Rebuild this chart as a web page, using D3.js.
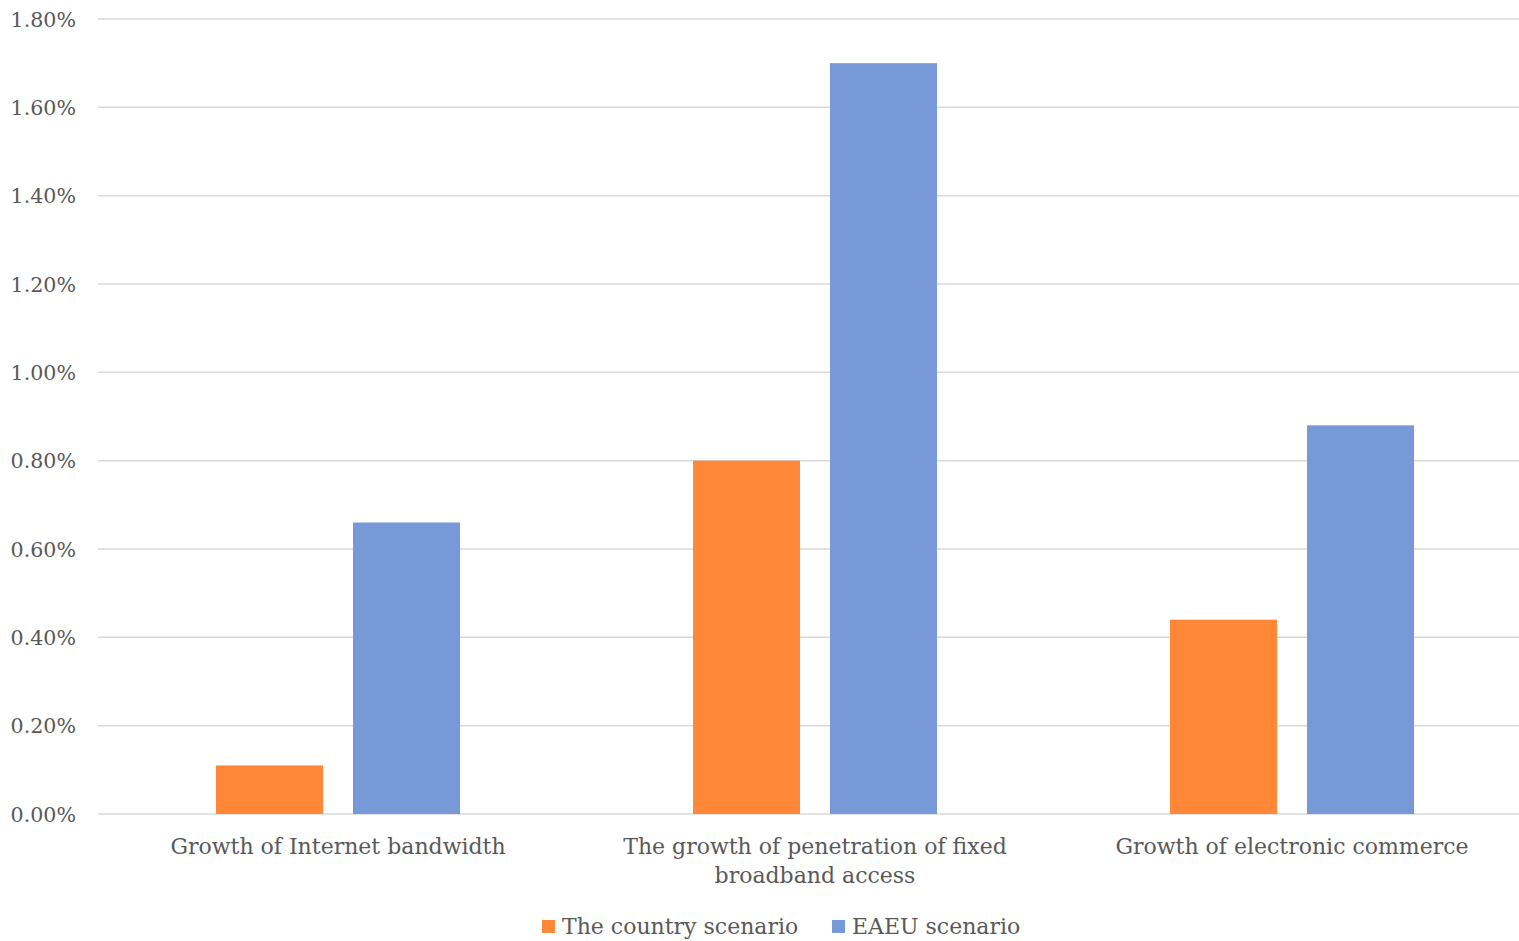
<!DOCTYPE html>
<html>
<head>
<meta charset="utf-8">
<script src="https://cdn.jsdelivr.net/npm/d3@7"></script>
<style>
  html, body { margin: 0; padding: 0; background: #fff; }
  svg { display: block; }
  text { font-family: "DejaVu Serif", "Liberation Serif", serif; fill: #595959; }
</style>
</head>
<body>
<svg id="chart" width="1519" height="941"></svg>
<script>
// Scenario estimates of GDP growth from digital development factors
const categories = [
  ["Growth of Internet bandwidth"],
  ["The growth of penetration of fixed", "broadband access"],
  ["Growth of electronic commerce"]
];
const seriesNames = ["The country scenario", "EAEU scenario"];
const countryValues = [0.0011, 0.0080, 0.0044];
const eaeuValues = [0.0066, 0.0170, 0.0088];
const yTicks = [0, 0.002, 0.004, 0.006, 0.008, 0.010, 0.012, 0.014, 0.016, 0.018];
const colors = ["#ff8838", "#7799d8"];

const svg = d3.select("#chart");
const plot = { left: 98, right: 1519, top: 19, bottom: 814 };

const y = d3.scaleLinear().domain([0, 0.018]).range([plot.bottom, plot.top]);
const x = d3.scaleBand().domain(d3.range(categories.length))
  .range([99.5, 99.5 + 477 * 3]).paddingInner(0).paddingOuter(0);
const inner = d3.scaleBand().domain([0, 1])
  .range([116.5, 477 - 116.5]).paddingInner(30 / 137).paddingOuter(0);

// Gridlines
svg.append("g").selectAll("line").data(yTicks).join("line")
  .attr("x1", plot.left).attr("x2", plot.right)
  .attr("y1", d => y(d)).attr("y2", d => y(d))
  .attr("stroke", "#d9d9d9").attr("stroke-width", 1.5);

// Y axis labels
const yAxis = d3.axisLeft(y).tickValues(yTicks).tickSize(0).tickPadding(0)
  .tickFormat(d3.format(".2%"));
const ga = svg.append("g").attr("transform", "translate(76,0)").call(yAxis);
ga.select(".domain").remove();
ga.selectAll("text").attr("font-size", 20.6).attr("fill", "#595959")
  .style("font-family", "DejaVu Serif, serif").attr("dy", "0.35em");

// Bars
const rows = categories.map((c, i) => [countryValues[i], eaeuValues[i]]);
const groups = svg.append("g").selectAll("g").data(rows).join("g")
  .attr("transform", (d, i) => `translate(${x(i)},0)`);
groups.selectAll("rect").data(d => d).join("rect")
  .attr("x", (d, j) => inner(j))
  .attr("width", inner.bandwidth())
  .attr("y", d => y(d))
  .attr("height", d => y(0) - y(d))
  .attr("fill", (d, j) => colors[j]);

// Category labels
const cl = svg.append("g").selectAll("text").data(categories).join("text")
  .attr("x", (d, i) => x(i) + x.bandwidth() / 2)
  .attr("y", 854)
  .attr("text-anchor", "middle")
  .attr("font-size", 22);
cl.selectAll("tspan").data(d => d).join("tspan")
  .attr("x", function() { return d3.select(this.parentNode).attr("x"); })
  .attr("dy", (d, k) => k === 0 ? 0 : 29)
  .text(d => d);

// Legend
const legendX = [542, 832];
const lg = svg.append("g").selectAll("g").data(seriesNames).join("g")
  .attr("transform", (d, i) => `translate(${legendX[i]},920)`);
lg.append("rect").attr("width", 13).attr("height", 13)
  .attr("fill", (d, i) => colors[i]);
lg.append("text").attr("x", 20).attr("y", 14).attr("font-size", 22).text(d => d);
</script>
</body>
</html>
